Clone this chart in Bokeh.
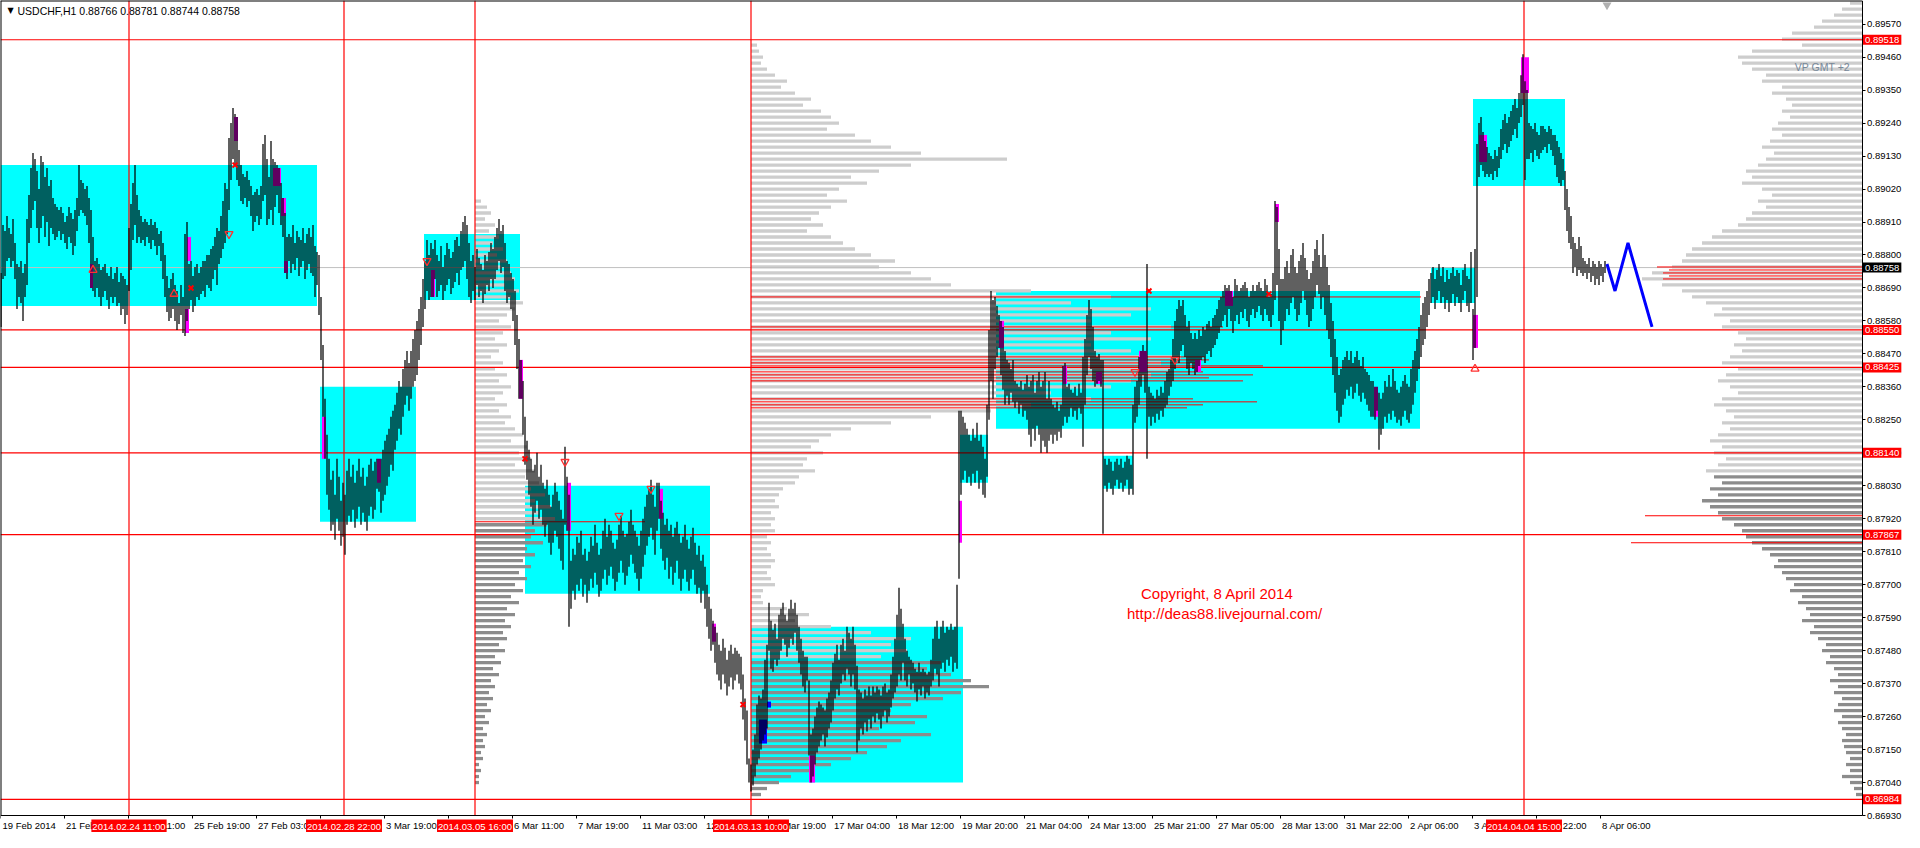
from bokeh.plotting import figure
from bokeh.models import Range1d, FixedTicker, PrintfTickFormatter, CustomJSTickFormatter, Label
from bokeh.embed import file_html
from bokeh.resources import INLINE

PIP = 0.0001
BASE = 0.8   # every price value below is given in pips above 0.8000 (e.g. 856 -> 0.8856)

# ---------------- hourly bars (low-high, pips above 0.8000) ----------------
BARS_WEEK1 = """
856-874 872-890 873-888 878-893 879-889 876-887 878-892 872-884 862-877 866-876 864-878 858-874 866-877 870-892 884-900 889-909
895-914 898-912 889-908 884-902 889-913 893-911 886-906 891-909 883-903 889-905 887-899 885-897
886-896 888-895 885-896 887-894 884-891 882-893 886-896 884-894 880-892 883-895 888-899
893-910 895-905 894-904 893-902 890-903 884-899 869-895 868-886
866-878 869-879 866-877 863-875 866-876 868-877 865-874 862-873 866-876 864-872 866-874 863-876 864-871 860-874 862-873 857-872 860-870 868-889
875-897 885-904 890-910 884-900 886-895
884-893 885-891 883-892 886-891 884-890 882-892 885-890 883-891 880-889 883-887 878-888 872-884 866-880
861-873 858-869 859-872 862-874 858-870 855-868 857-864 860-870 854-866 853-887 858-891 862-877 865-878 861-873 863-876 866-877
865-874 867-876 868-878 866-878 870-880 869-880 868-882 872-883 875-886 870-889 877-888 879-893 882-898 884-904
887-902 895-919 905-924 912-929 910-927
905-926 903-915 898-910 897-907 899-906 896-908 898-905 893-903 888-900 891-901 893-902 890-900 892-903
898-917 900-920 890-912 892-906 895-918 890-912 896-911 900-910 894-909 890-904 886-899 874-894
872-886 878-887 874-886 877-890 875-884 879-888 873-886 876-885 878-889 872-884 875-887 877-889 874-886 873-890 866-883 870-881
"""
BARS_WEEK2 = """
860-880 845-866 826-850 812-832 800-820 795-812 788-805 790-808 785-800 792-812 788-806 783-798 786-804 780-800
790-808 793-812 791-806 795-810 789-804 792-808 796-812 790-806 794-809 791-803 788-806 793-810 796-812 792-808 795-811 802-812 801-812 794-812 798-815 800-818
803-820 806-822 810-826 808-828 815-830 818-834 822-838 820-836 826-842 830-845 833-848 828-844 832-848 836-852 838-855 840-858 845-862
850-866 856-872 862-878 868-885 865-880 866-884
866-882 872-885 866-880 868-878 870-883 865-876 868-880 870-884 872-882 867-879 869-881 871-885 874-886 870-883 875-888 876-891 878-893 872-890 866-884 864-878
868-880 865-876 870-882 866-879 868-877 864-875 867-880 870-878 868-881 872-884 869-882 872-886 875-889 878-892 874-888 876-890 868-884 864-878 866-877
862-874 858-872 850-868 842-860 832-852 832-845 820-838 810-826 805-818 800-815
796-812 790-808 794-810 798-814 792-806 795-810 790-804 786-802 790-805 784-800 780-796 784-800 788-804 786-801 782-798
778-795 775-792 790-816 788-806 756-800 762-778 768-782 765-780 770-786
768-784 772-788 766-780 770-782 764-778 768-781 772-786 769-783 774-790 770-784 766-780 768-782 772-788 775-792 770-786 773-790 776-788 772-784 768-782 771-785
774-790 778-793 774-788 770-786 773-787 776-791 780-795 777-790 774-788 772-786 768-783 772-788 776-792 780-796 783-800 786-802 789-805 785-800 780-796 788-804 792-804 782-798
778-794 775-790 779-792 772-788 776-790 770-786 774-789 778-791 772-787 768-784 772-786 775-790 771-785 768-782 772-786 775-789 770-784 767-780 769-783 764-778 768-780 762-776
756-770 752-766 748-762 750-758 744-756 740-754
738-750 735-748 740-752 737-749 733-745 736-748 739-750 735-747 738-749 740-748 737-747 735-746
725-740 718-732 710-728 704-712 701-710 703-715 706-720
"""
BARS_WEEK3 = """
710-730 712-733 715-732 718-735 720-745 722-750 748-764 742-758 741-755 745-757 743-752 745-760 748-762 752-764 750-760 746-758 749-762 752-765 750-762 754-764
748-760 744-756 740-752 736-748 734-746 738-746 713-738 704-720 706-722 710-726 714-729 716-731 718-730 720-729 716-728 719-732 722-734 724-738 728-744 732-747
735-750 733-745 737-750 740-752 738-748 742-756 740-754 736-752 740-756 735-750 714-743 718-735 722-734 720-732 724-735 721-733 725-736 722-733 726-736 724-734
727-736 725-735 722-733 726-736 728-737 724-734 726-735 729-740 732-746 734-752 736-760 740-769 738-762 744-757 738-752 736-748 740-746 735-745 737-744 734-742
731-741 735-744 733-741 736-742 732-741 734-740 733-741 736-745 738-752 742-756 740-758 736-752 742-756 744-758 741-754 745-756 743-755 746-757 741-755 744-756
742-770
772-828 800-828 805-826 808-824 804-822 806-820 803-818 807-822 804-819 808-824 802-818 805-820 800-816 799-812 806-830
825-855 838-868 832-865 842-866 846-863 849-860 840-858 835-856
830-848 833-845 830-844 834-842 831-845 829-838
831-837 827-836 830-838 826-835 828-837 825-840
820-836 816-838 822-840 818-834 823-838 820-841 814-836 818-838
816-841 814-832 818-838 820-832
817-830 820-829 818-831 821-828 819-830 823-843 826-844 824-836
826-837 829-835 826-834 828-836 825-833 829-837 827-834
816-846
830-852 840-860 846-865 842-862 838-856
836-848 837-846 838-847 836-845
787-845
803-812 801-810 804-812 802-811 800-808 803-811 805-812 802-810 804-812 801-809 803-811 805-813 800-812 802-810
800-830
824-836 826-838 830-846 836-848 840-850 834-848
812-877
"""
BARS_WEEK4 = """
826-836 823-834 826-833 824-832 827-835 825-833 828-836 826-834 829-838 830-841 833-842 836-845
838-852 842-858 846-862 844-865 848-863 850-865 846-860 842-856 840-858 844-854 842-852
840-854 841-852 843-855 845-853 846-856 844-855 847-857 848-858 846-856 849-859 850-860 852-862 854-865 856-866 858-868
860-870 856-869 862-870 858-868 854-866
858-872 860-870 857-868 861-869 859-870 862-871 858-869 856-866 860-868 862-870 859-868 861-870 863-871 860-869 858-868 862-872 860-870 858-866 856-867 860-874
865-898 870-896 858-882 850-872
855-872 858-876 862-878 860-874 864-880 866-882 862-876 858-874 860-878 864-880 868-884 865-879 860-875 856-872 858-874 862-878 866-882 870-885 867-880 862-876 866-887 860-880 855-876 852-870
846-864 840-858 834-852 828-846 824-840 826-842 830-845
832-846 835-848 833-845 836-848 832-844 834-846 837-848 833-845 831-843 834-846 832-842 830-841 828-840 826-838
826-838 825-836 828-836 815-834 820-832 822-834
826-838 824-836 827-840 825-836 828-842 826-838 824-835 825-834 823-836 826-838 828-840 825-837 824-836 827-842 830-845
834-848 838-852 842-856 846-860 850-864 852-866 856-868 860-872
864-874 866-876 862-872 865-875 868-877 864-873 866-876 862-871 865-875 861-872 864-874 867-876 863-873 866-875 864-874 861-870 865-875 868-877 863-873 861-872 864-881
845-862 849-882 866-917
906-924 910-926 908-921 906-918 907-916
906-914 907-913 905-912 908-915 906-913 909-916
912-922 915-925 917-927 914-924 916-926 918-928
920-930 922-932 919-929 924-934
926-940 930-947 905-938 912-935
912-924 914-923 911-922 915-924 913-921 912-920 914-923
915-923 916-922 914-921 917-923 915-922 913-920
910-920 906-918 904-916 903-914 905-912
895-908 888-902 884-896 882-893
874-886 876-884 873-882 875-886 874-883
873-879 874-878 872-877 874-879 871-876 873-878 870-877 872-876 870-878 873-877 871-876 874-878
"""

# ---------------- zones (bar index from-to, pips low-high) ----------------
BOX_START = [-0.25, 159.5, 211.5, 262, 375, 479.5, 551, 497.5, 715, 736]
BOX_END = [158, 207.5, 259.5, 354.5, 481, 493.5, 566, 709.5, 737, 782]
BOX_LOW = [863, 791, 865, 767, 704, 804, 802, 822, 864, 903]
BOX_HIGH = [910, 836, 887, 803, 756, 820, 813, 868, 876, 932]

MAG_START = [44.5, 93, 92, 116.5, 136, 140, 141.5, 160.5, 188, 215, 259, 283, 329, 355.5, 404, 479, 499, 531, 547.5, 569, 597, 612, 637, 686.5, 736, 739, 760]
MAG_END = [46, 95, 94, 118.5, 140, 142.5, 143.5, 162.5, 190, 217, 261, 285, 331, 357.5, 407, 480.5, 501.5, 533, 550.5, 573, 600, 616, 639, 688.5, 738.5, 743, 764]
MAG_LOW = [869, 878, 854, 918, 903, 893, 874, 812, 804, 866, 832, 788, 792, 751, 704, 784, 849, 837, 837, 841, 841, 863, 891, 826, 849, 911, 934]
MAG_HIGH = [877, 886, 862, 926, 909, 899, 878, 826, 812, 875, 845, 804, 802, 757, 713, 798, 858, 843, 841, 848, 845, 868, 897, 836, 860, 920, 946]

BLUE_START = [379, 383]
BLUE_END = [383, 385]
BLUE_LOW = [717, 729]
BLUE_HIGH = [725, 731]

# ---------------- volume profiles (level:length in bars, pips above 0.8000) ----------------
LEFT_PROFILE = """898:3 896:6 894:8 892:5 890:10 888:7 886:12 884:9 882:14 880:11 878:16 876:13 874:18 872:20
870:15 868:22 866:18 864:24 862:20 860:16 858:12 856:18 854:14 852:10 850:16 848:12 846:8 844:14 842:10
840:16 838:12 836:18 834:14 832:10 830:16 828:12 826:18 824:15 822:20 820:24 818:18 816:26 814:22 812:28
810:20 808:30 806:25 804:32 802:28 800:35 798:30 796:38 794:32 792:40 790:36 788:30 786:28 784:34 782:26
780:30 778:24 776:28 774:22 772:26 770:20 768:24 766:18 764:22 762:16 760:20 758:15 756:18 754:14 752:16
750:12 748:15 746:10 744:13 742:9 740:12 738:8 736:10 734:7 732:9 730:6 728:8 726:5 724:7 722:4 720:6
718:4 716:5 714:3 712:4 710:2 708:3 706:2 704:2"""
MID_PROFILE = """950:3 948:4 946:6 944:5 942:8 940:12 938:18 936:15 934:22 932:30 930:26 928:35 926:40 924:44 922:38
920:52 918:60 916:70 914:85 912:128 910:80 908:64 906:50 904:58 902:44 900:38 898:48 896:40 894:34 892:30
890:36 888:28 886:40 884:46 882:52 880:60 878:72 876:64 874:80 872:90 870:100 868:140 866:180 864:160 862:200
860:190 858:170 856:210 854:180 852:200 850:170 848:190 846:215 844:205 842:210 840:200 838:190 836:180 834:150
832:170 830:140 828:120 826:90 824:70 822:50 820:40 818:34 816:30 814:36 812:28 810:26 808:32 806:24 804:22
802:16 800:14 798:12 796:14 794:10 792:12 790:10 788:12 786:8 784:10 782:8 780:10 778:12 776:10 774:8 772:10
770:12 768:6 766:5 764:6 762:18 760:29 758:22 756:40 754:60 752:80 750:70 748:78 746:65 744:95 742:88 740:100
738:110 736:119 734:105 732:96 730:80 728:70 726:88 724:82 722:64 720:90 718:75 716:68 714:58 712:50 710:40
708:30 706:20 704:14 702:8 700:5"""
RIGHT_PROFILE = """964:6 962:10 960:14 958:20 956:24 954:35 952:40 950:30 948:55 946:62 944:60 942:55 940:48 938:50
936:40 934:45 932:38 930:35 928:40 926:36 924:42 922:45 920:40 918:46 916:50 914:44 912:48 910:52 908:58
906:55 904:60 902:50 900:45 898:52 896:48 894:55 892:58 890:62 888:70 886:75 884:80 882:85 880:88 878:90
876:95 874:105 872:110 870:100 868:90 866:85 864:78 862:70 860:74 858:66 856:70 854:62 852:58 850:64 848:60
846:66 844:70 842:62 840:68 838:72 836:66 834:62 832:70 830:74 828:68 826:64 824:70 822:66 820:72 818:76
816:70 814:74 812:68 810:72 808:78 806:74 804:70 802:76 800:72 798:80 796:76 794:72 792:70 790:64 788:60
786:58 784:55 782:50 780:46 778:42 776:44 774:40 772:38 770:34 768:36 766:30 764:32 762:28 760:26 758:30
756:24 754:26 752:22 750:18 748:20 746:16 744:18 742:14 740:12 738:16 736:12 734:14 732:10 730:12 728:14
726:10 724:12 722:10 720:8 718:10 716:9 714:8 712:6 710:8 708:6 706:10 704:6 702:4 700:3"""
LEFT_ANCHOR, MID_ANCHOR = 237, 375
LEFT_DARK_BELOW, MID_DARK_BELOW, RIGHT_DARK_BELOW = 791, 745, 807

# profile level lines in red (from bar, to bar, level pips); the right ones run to the chart edge
RED_SEG_FROM = [375, 375, 375, 375, 375, 375, 375, 375, 375, 375, 375, 375, 375, 375, 237]
RED_SEG_TO = [710, 611, 602, 604, 600, 631, 601, 626, 604, 621, 596, 628, 601, 593, 322]
RED_SEG_LEVEL = [866, 856, 846, 845, 844, 843, 841, 840, 839, 838, 832, 831, 830, 829, 791]
RED_EDGE_FROM = [828, 834, 831, 834, 831, 822, 815]
RED_EDGE_LEVEL = [876, 875, 874, 873, 872, 793, 784]

H_LEVELS = [0.89518, 0.88550, 0.88425, 0.88140, 0.87867, 0.86984]
BID = 0.88758
V_LINES = [64, 171.5, 237, 375, 761.5]
V_LINE_TIMES = ["2014.02.24 11:00", "2014.02.28 22:00", "2014.03.05 16:00", "2014.03.13 10:00", "2014.04.04 15:00"]

X_MARK_BAR = [117, 95, 262, 371, 574, 634]
X_MARK_LEVEL = [910, 869, 812, 730, 868, 867]
UP_ARROW_BAR = [46, 86.5, 737]
UP_ARROW_LEVEL = [875, 867, 842]
DN_ARROW_BAR = [114, 213, 282, 309, 325, 567, 587]
DN_ARROW_LEVEL = [887, 878, 811, 793, 802, 841, 845]

FORECAST_BAR = [803, 807, 813.5, 825.5]
FORECAST_LEVEL = [877, 868, 884, 856]

Y_TICKS = [0.86930, 0.87040, 0.87150, 0.87260, 0.87370, 0.87480, 0.87590, 0.87700, 0.87810, 0.87920, 0.88030,
           0.88140, 0.88250, 0.88360, 0.88470, 0.88580, 0.88690, 0.88800, 0.88910, 0.89020, 0.89130, 0.89240,
           0.89350, 0.89460, 0.89570]
X_TICKS = [-0.25, 31.5, 63.5, 95.5, 127.5, 159.5, 191.5, 223.5, 255.5, 287.5, 319.5, 351.5, 383.5, 415.5,
           447.5, 479.5, 511.5, 543.5, 575.5, 607.5, 639.5, 671.5, 703.5, 735.5, 767.5, 799.5]
X_LABELS = ["19 Feb 2014", "21 Feb 03:00", "24 Feb 11:00", "25 Feb 19:00", "27 Feb 03:00", "28 Feb 11:00",
            "3 Mar 19:00", "5 Mar 03:00", "6 Mar 11:00", "7 Mar 19:00", "11 Mar 03:00", "12 Mar 11:00",
            "13 Mar 19:00", "17 Mar 04:00", "18 Mar 12:00", "19 Mar 20:00", "21 Mar 04:00", "24 Mar 13:00",
            "25 Mar 21:00", "27 Mar 05:00", "28 Mar 13:00", "31 Mar 22:00", "2 Apr 06:00", "3 Apr 14:00",
            "4 Apr 22:00", "8 Apr 06:00"]
TITLE = "USDCHF,H1  0.88766 0.88781 0.88744 0.88758"


def px(v):
    return round(BASE + v * PIP, 5)


def parse_bars(*blocks):
    lo, hi = [], []
    for b in blocks:
        for tok in b.split():
            a, c = tok.split("-")
            lo.append(px(int(a)))
            hi.append(px(int(c)))
    return lo, hi


def parse_profile(text):
    lv, ln = [], []
    for tok in text.split():
        a, c = tok.split(":")
        lv.append(int(a))
        ln.append(int(c))
    return lv, ln


LOW, HIGH = parse_bars(BARS_WEEK1, BARS_WEEK2, BARS_WEEK3, BARS_WEEK4)
IDX = list(range(len(LOW)))

# chart area (bars) and the whole canvas, which also holds the axis texts (2 px per bar)
X0, X1, X_CANVAS = -0.25, 930.5, 951.75
Y0, Y1, Y_CANVAS = 0.86930, 0.89649, 0.868733
RIGHT_ANCHOR = X1
FONT = "Liberation Sans"

p = figure(width=1904, height=832, x_range=Range1d(X0, X_CANVAS), y_range=Range1d(Y_CANVAS, Y1),
           output_backend="svg", toolbar_location=None, y_axis_location="right",
           min_border_left=0, min_border_top=0, min_border_right=0, min_border_bottom=0)
p.background_fill_color = "white"
p.border_fill_color = "white"
p.outline_line_color = None
p.grid.visible = False

# axes, drawn at the chart's right and bottom edges
p.yaxis.fixed_location = X1
p.yaxis.bounds = (Y0, Y1)
p.yaxis.ticker = FixedTicker(ticks=Y_TICKS)
p.yaxis.formatter = PrintfTickFormatter(format="%.5f")
p.yaxis.major_label_text_font = FONT
p.yaxis.major_label_text_font_size = "9.5px"
p.yaxis.major_label_text_color = "black"
p.yaxis.major_tick_out = 3
p.yaxis.major_tick_in = 0
p.yaxis.minor_tick_out = 0
p.yaxis.minor_tick_in = 0
p.yaxis.major_label_standoff = 2
p.yaxis.axis_line_color = "black"

p.xaxis.fixed_location = Y0
p.xaxis.bounds = (X0, X1)
p.xaxis.ticker = FixedTicker(ticks=X_TICKS)
p.xaxis.formatter = CustomJSTickFormatter(code="return ''")
p.xaxis.major_tick_out = 3
p.xaxis.major_tick_in = 0
p.xaxis.minor_tick_out = 0
p.xaxis.minor_tick_in = 0
p.xaxis.axis_line_color = "black"

# cyan zones
p.quad(left=BOX_START, right=BOX_END, bottom=[px(v) for v in BOX_LOW], top=[px(v) for v in BOX_HIGH],
       fill_color="#00ffff", line_color=None)


# volume profiles
def draw_profile(text, anchor, dark_below, to_left):
    lv, ln = parse_profile(text)
    for dark in (False, True):
        ys, ls, rs = [], [], []
        for level, length in zip(lv, ln):
            if (level < dark_below) != dark:
                continue
            ys.append(px(level))
            if to_left:
                ls.append(anchor - length)
                rs.append(anchor)
            else:
                ls.append(anchor)
                rs.append(anchor + length)
        p.hbar(y=ys, left=ls, right=rs, height=1.1 * PIP,
               fill_color="#8c8c8c" if dark else "#cdcdcd", line_color=None)


draw_profile(LEFT_PROFILE, LEFT_ANCHOR, LEFT_DARK_BELOW, False)
draw_profile(MID_PROFILE, MID_ANCHOR, MID_DARK_BELOW, False)
draw_profile(RIGHT_PROFILE, RIGHT_ANCHOR, RIGHT_DARK_BELOW, True)

# bid line
p.segment(x0=[X0], x1=[X1], y0=[BID], y1=[BID], line_color="#c0c0c0", line_width=1)

# red levels
red_y = [px(v) for v in RED_SEG_LEVEL]
p.segment(x0=RED_SEG_FROM, x1=RED_SEG_TO, y0=red_y, y1=red_y, line_color="#ff0000", line_width=1)
edge_y = [px(v) for v in RED_EDGE_LEVEL]
p.segment(x0=RED_EDGE_FROM, x1=[X1] * len(edge_y), y0=edge_y, y1=edge_y, line_color="#ff0000", line_width=1)
p.segment(x0=[X0] * len(H_LEVELS), x1=[X1] * len(H_LEVELS), y0=H_LEVELS, y1=H_LEVELS,
          line_color="#ff0000", line_width=1.2)
p.segment(x0=V_LINES, x1=V_LINES, y0=[Y0] * len(V_LINES), y1=[Y1] * len(V_LINES),
          line_color="#ff0000", line_width=1.2)

# highlighted bodies
p.quad(left=MAG_START, right=MAG_END, bottom=[px(v) for v in MAG_LOW], top=[px(v) for v in MAG_HIGH],
       fill_color="#ff00ff", line_color=None)
p.quad(left=BLUE_START, right=BLUE_END, bottom=[px(v) for v in BLUE_LOW], top=[px(v) for v in BLUE_HIGH],
       fill_color="#0000ff", line_color=None)

# price bars
p.segment(x0=IDX, x1=IDX, y0=LOW, y1=HIGH, line_color="black", line_width=1.25)

# markers
p.scatter(x=X_MARK_BAR, y=[px(v) for v in X_MARK_LEVEL], marker="x", size=7, line_color="#ff0000", line_width=2)
p.scatter(x=UP_ARROW_BAR, y=[px(v) for v in UP_ARROW_LEVEL], marker="triangle", size=8,
          fill_color=None, line_color="#ff3030", line_width=1.3)
p.scatter(x=DN_ARROW_BAR, y=[px(v) for v in DN_ARROW_LEVEL], marker="inverted_triangle", size=8,
          fill_color=None, line_color="#ff3030", line_width=1.3)

# forecast
p.line(x=FORECAST_BAR, y=[px(v) for v in FORECAST_LEVEL], line_color="#0000ff", line_width=3)

# chart shift marker
p.scatter(x=[len(IDX)], y=[Y1 - 1.5 * PIP], marker="inverted_triangle", size=9,
          fill_color="#b0b0b0", line_color=None)

# chart frame (left and top edges)
p.segment(x0=[X0, X0], x1=[X0, X1], y0=[Y0, Y1], y1=[Y1, Y1], line_color="black", line_width=2)

# texts
p.add_layout(Label(x=X0, y=Y1, x_offset=7, y_offset=-10, text="\u25bc", text_font="DejaVu Sans",
                   text_font_size="8px", text_color="black", text_baseline="middle"))
p.add_layout(Label(x=X0, y=Y1, x_offset=17, y_offset=-10, text=TITLE, text_font=FONT,
                   text_font_size="10.5px", text_color="black", text_baseline="middle"))
p.add_layout(Label(x=X1, y=0.89428, x_offset=-12, text="VP GMT +2", text_font=FONT,
                   text_font_size="10.5px", text_color="#778899", text_align="right", text_baseline="middle"))
p.add_layout(Label(x=570, y=0.87670, text="Copyright, 8 April 2014", text_font=FONT,
                   text_font_size="15px", text_color="#ff0000", text_baseline="middle"))
p.add_layout(Label(x=563, y=0.87604, text="http://deas88.livejournal.com/", text_font=FONT,
                   text_font_size="15px", text_color="#ff0000", text_baseline="middle"))

for xt, lab in zip(X_TICKS, X_LABELS):
    p.add_layout(Label(x=xt, y=Y0, x_offset=2, y_offset=-4, text=lab, text_font=FONT,
                       text_font_size="9.5px", text_color="black", text_baseline="top"))

for xv, lab in zip(V_LINES, V_LINE_TIMES):
    p.add_layout(Label(x=xv, y=Y0, y_offset=-4, text=lab, text_font=FONT, text_font_size="9.5px",
                       text_color="white", text_align="center", text_baseline="top",
                       background_fill_color="#ff0000", padding=1))

for lvl in H_LEVELS:
    p.add_layout(Label(x=X1, y=lvl, x_offset=1, text=f"{lvl:.5f}", text_font=FONT, text_font_size="9.5px",
                       text_color="white", text_baseline="middle", background_fill_color="#ff0000", padding=2))
p.add_layout(Label(x=X1, y=BID, x_offset=1, text=f"{BID:.5f}", text_font=FONT, text_font_size="9.5px",
                   text_color="white", text_baseline="middle", background_fill_color="black", padding=2))

open("out.html", "w").write(file_html(p, INLINE))
